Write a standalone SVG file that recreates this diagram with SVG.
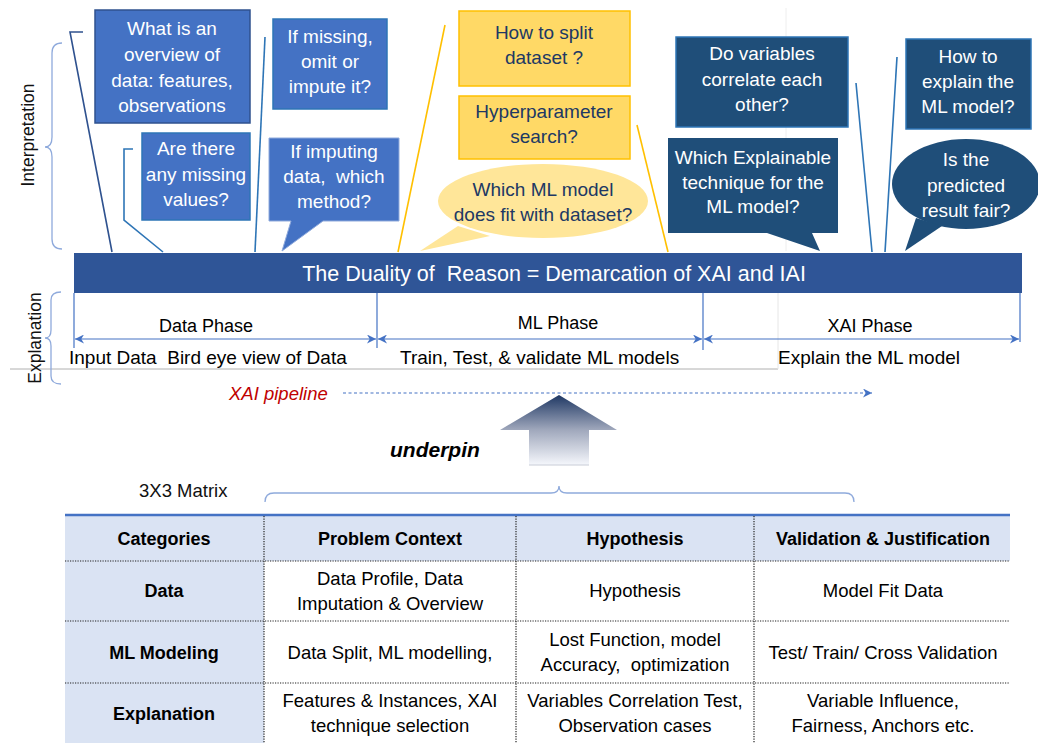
<svg xmlns="http://www.w3.org/2000/svg" width="1038" height="743" viewBox="0 0 1038 743">
<defs>
<style>
text{font-family:"Liberation Sans",Arial,sans-serif;white-space:pre;}
.w{fill:#FFFFFF;font-size:19px;text-anchor:middle;}
.y{fill:#203864;font-size:19px;text-anchor:middle;}
.ph{fill:#000000;font-size:18px;}
.ph2{fill:#000000;font-size:19px;}
.th{font-size:18px;font-weight:bold;text-anchor:middle;fill:#000;}
.td{font-size:18.5px;text-anchor:middle;fill:#000;}
.brace{fill:none;stroke:#8FAADC;stroke-width:1.3;}
.dot{stroke:#222;stroke-width:1.2;stroke-dasharray:1.2 1.3;}
.dim{stroke:#4472C4;stroke-width:1.2;fill:none;}
</style>
<marker id="ah" viewBox="0 0 10 10" refX="10" refY="5" markerWidth="9" markerHeight="9" markerUnits="userSpaceOnUse" orient="auto-start-reverse"><path d="M0,0 L10,5 L0,10 L3,5 Z" fill="#4472C4"/></marker>
<linearGradient id="ug" x1="0" y1="0" x2="0" y2="1"><stop offset="0" stop-color="#1F3864"/><stop offset="0.5" stop-color="#A0A8BC"/><stop offset="1" stop-color="#F5F7FC"/></linearGradient>
</defs>
<rect width="1038" height="743" fill="#FFFFFF"/>

<!-- faint artifacts -->
<line x1="10" y1="369" x2="778" y2="369" stroke="#B0B0B0" stroke-width="1"/>
<line x1="778" y1="293" x2="778" y2="369" stroke="#E6E6E6" stroke-width="1"/>
<line x1="786" y1="8" x2="786" y2="251" stroke="#EEEEEE" stroke-width="1"/>

<!-- braces & side labels -->
<g id="interpretation">
<path class="brace" d="M62,43 Q52,43 52,53 V137 Q52,147 45,147 Q52,147 52,157 V239 Q52,249 62,249"/>
<text transform="translate(34,135) rotate(-90)" font-size="17.5" text-anchor="middle" fill="#111">Interpretation</text>
</g>
<g id="explanation">
<path class="brace" d="M61,292 Q51,292 51,300 V330 Q51,338 45,338 Q51,338 51,346 V376 Q51,384 61,384"/>
<text transform="translate(41,338) rotate(-90)" font-size="17.5" text-anchor="middle" fill="#111">Explanation</text>
</g>

<!-- connectors -->
<g id="connectors" fill="none" stroke-width="1.6">
<polyline points="83,32 70,32 112,252" stroke="#2F528F"/>
<polyline points="133,149 124,149 124,220 163,252" stroke="#2E75B6"/>
<line x1="265" y1="37" x2="255" y2="252" stroke="#2E75B6"/>
<line x1="445" y1="25" x2="398" y2="252" stroke="#FFC000"/>
<line x1="637" y1="125" x2="668" y2="252" stroke="#FFC000"/>
<line x1="856" y1="83" x2="872" y2="252" stroke="#2E75B6"/>
<line x1="897" y1="57" x2="885" y2="252" stroke="#2E75B6"/>
</g>

<!-- blue callouts -->
<g id="q-overview">
<rect x="95" y="10" width="155" height="113" fill="#4472C4" stroke="#2F528F" stroke-width="1.5"/>
<text class="w" x="172" y="35">What is an</text>
<text class="w" x="172" y="61">overview of</text>
<text class="w" x="172" y="87">data: features,</text>
<text class="w" x="172" y="112">observations</text>
</g>
<g id="q-omit">
<rect x="273" y="19" width="114" height="90" fill="#4472C4" stroke="#2E75B6" stroke-width="1.5"/>
<text class="w" x="330" y="43">If missing,</text>
<text class="w" x="330" y="68">omit or</text>
<text class="w" x="330" y="93">impute it?</text>
</g>
<g id="q-missing">
<rect x="142" y="133" width="108" height="87" fill="#4472C4" stroke="#2E75B6" stroke-width="1.5"/>
<text class="w" x="196" y="155">Are there</text>
<text class="w" x="196" y="181">any missing</text>
<text class="w" x="196" y="206">values?</text>
</g>
<g id="q-impute">
<path d="M269,138 H399 V221 H323 L282,251 L291,221 H269 Z" fill="#4472C4" stroke="#8FAADC" stroke-width="1"/>
<text class="w" x="334" y="158">If imputing</text>
<text class="w" x="334" y="183">data,  which</text>
<text class="w" x="334" y="208">method?</text>
</g>

<!-- yellow callouts -->
<g id="q-split">
<rect x="459" y="11" width="171" height="75" fill="#FFD966" stroke="#FFC000" stroke-width="1.5"/>
<text class="y" x="544" y="39">How to split</text>
<text class="y" x="544" y="64">dataset ?</text>
</g>
<g id="q-hyper">
<rect x="459" y="96" width="171" height="63" fill="#FFD966" stroke="#FFC000" stroke-width="1.5"/>
<text class="y" x="544" y="118">Hyperparameter</text>
<text class="y" x="544" y="143">search?</text>
</g>
<g id="q-model">
<ellipse cx="543" cy="201" rx="105" ry="37" fill="#FFE699"/>
<path d="M458,226 L420,251 L490,236 Z" fill="#FFE699"/>
<text class="y" x="543" y="196">Which ML model</text>
<text class="y" x="543" y="221">does fit with dataset?</text>
</g>

<!-- dark blue callouts -->
<g id="q-correlate">
<rect x="676" y="37" width="172" height="90" fill="#1F4E79" stroke="#2E75B6" stroke-width="1.5"/>
<text class="w" x="762" y="60">Do variables</text>
<text class="w" x="762" y="86">correlate each</text>
<text class="w" x="762" y="111">other?</text>
</g>
<g id="q-explain">
<rect x="906" y="39" width="125" height="90" fill="#1F4E79" stroke="#2E75B6" stroke-width="1.5"/>
<text class="w" x="968" y="63">How to</text>
<text class="w" x="968" y="88">explain the</text>
<text class="w" x="968" y="113">ML model?</text>
</g>
<g id="q-technique">
<path d="M668,138 H838 V233 H812 L820,251 L767,233 H668 Z" fill="#1F4E79"/>
<text class="w" x="753" y="164">Which Explainable</text>
<text class="w" x="753" y="189">technique for the</text>
<text class="w" x="753" y="213">ML model?</text>
</g>
<g id="q-fair">
<ellipse cx="966" cy="184" rx="74" ry="45" fill="#1F4E79"/>
<path d="M916,218 L905,251 L942,226 Z" fill="#1F4E79"/>
<text class="w" x="966" y="166">Is the</text>
<text class="w" x="966" y="192">predicted</text>
<text class="w" x="966" y="217">result fair?</text>
</g>

<!-- main bar -->
<g id="duality-bar">
<rect x="74" y="253" width="948" height="40" fill="#2F5597"/>
<text x="554" y="281" font-size="21.5" fill="#FFFFFF" text-anchor="middle">The Duality of  Reason = Demarcation of XAI and IAI</text>
</g>

<!-- phases -->
<g id="phases">
<line class="dim" x1="74" y1="293" x2="74" y2="348"/>
<line class="dim" x1="377" y1="293" x2="377" y2="348"/>
<line class="dim" x1="703" y1="293" x2="703" y2="350"/>
<line class="dim" x1="1020" y1="293" x2="1020" y2="342"/>
<line class="dim" x1="75" y1="339" x2="376" y2="339" marker-start="url(#ah)" marker-end="url(#ah)"/>
<line class="dim" x1="378" y1="339" x2="702" y2="339" marker-start="url(#ah)" marker-end="url(#ah)"/>
<line class="dim" x1="704" y1="339" x2="1019" y2="339" marker-start="url(#ah)" marker-end="url(#ah)"/>
<text class="ph" x="206" y="332" text-anchor="middle">Data Phase</text>
<text class="ph" x="558" y="329" text-anchor="middle">ML Phase</text>
<text class="ph" x="870" y="332" text-anchor="middle">XAI Phase</text>
<text class="ph2" x="69" y="364">Input Data  Bird eye view of Data</text>
<text class="ph2" x="400" y="364">Train, Test, &amp; validate ML models</text>
<text class="ph2" x="778" y="364">Explain the ML model</text>
</g>

<!-- pipeline -->
<g id="pipeline">
<text x="229" y="400" font-size="18.5" font-style="italic" fill="#C00000">XAI pipeline</text>
<line x1="343" y1="393" x2="872" y2="393" stroke="#4472C4" stroke-width="1.2" stroke-dasharray="3 2.5" marker-end="url(#ah)"/>
</g>

<!-- underpin arrow -->
<g id="underpin">
<polygon points="559,395 617,430 589,430 589,465 529,465 529,430 500,430" fill="url(#ug)"/>
<line x1="529" y1="465" x2="589" y2="465" stroke="#C8CCD6" stroke-width="1"/>
<text x="390" y="457" font-size="21" font-weight="bold" font-style="italic" fill="#000">underpin</text>
</g>

<!-- matrix label & brace -->
<g id="matrix-label">
<text x="139" y="497" font-size="18.5" fill="#111">3X3 Matrix</text>
<path class="brace" d="M265,502 Q265,493 274,493 H551 Q559,493 559,486 Q559,493 567,493 H845 Q854,493 854,502"/>
</g>

<!-- table -->
<g id="matrix-table">
<rect x="65" y="515" width="945" height="46" fill="#DAE3F3"/>
<rect x="65" y="561" width="199" height="182" fill="#DAE3F3"/>
<line x1="65" y1="515" x2="1010" y2="515" stroke="#4472C4" stroke-width="2.5"/>
<line class="dot" x1="65" y1="561" x2="1010" y2="561"/>
<line class="dot" x1="65" y1="621" x2="1010" y2="621"/>
<line class="dot" x1="65" y1="683" x2="1010" y2="683"/>
<line class="dot" x1="264" y1="516" x2="264" y2="743"/>
<line class="dot" x1="516" y1="516" x2="516" y2="743"/>
<line class="dot" x1="754" y1="516" x2="754" y2="743"/>
<text class="th" x="164" y="545">Categories</text>
<text class="th" x="390" y="545">Problem Context</text>
<text class="th" x="635" y="545">Hypothesis</text>
<text class="th" x="883" y="545">Validation &amp; Justification</text>
<text class="th" x="164" y="597">Data</text>
<text class="th" x="164" y="659">ML Modeling</text>
<text class="th" x="164" y="720">Explanation</text>
<text class="td" x="390" y="585">Data Profile, Data</text>
<text class="td" x="390" y="610">Imputation &amp; Overview</text>
<text class="td" x="635" y="597">Hypothesis</text>
<text class="td" x="883" y="597">Model Fit Data</text>
<text class="td" x="390" y="659">Data Split, ML modelling,</text>
<text class="td" x="635" y="646">Lost Function, model</text>
<text class="td" x="635" y="671">Accuracy,  optimization</text>
<text class="td" x="883" y="659">Test/ Train/ Cross Validation</text>
<text class="td" x="390" y="707">Features &amp; Instances, XAI</text>
<text class="td" x="390" y="732">technique selection</text>
<text class="td" x="635" y="707">Variables Correlation Test,</text>
<text class="td" x="635" y="732">Observation cases</text>
<text class="td" x="883" y="707">Variable Influence,</text>
<text class="td" x="883" y="732">Fairness, Anchors etc.</text>
</g>
</svg>
